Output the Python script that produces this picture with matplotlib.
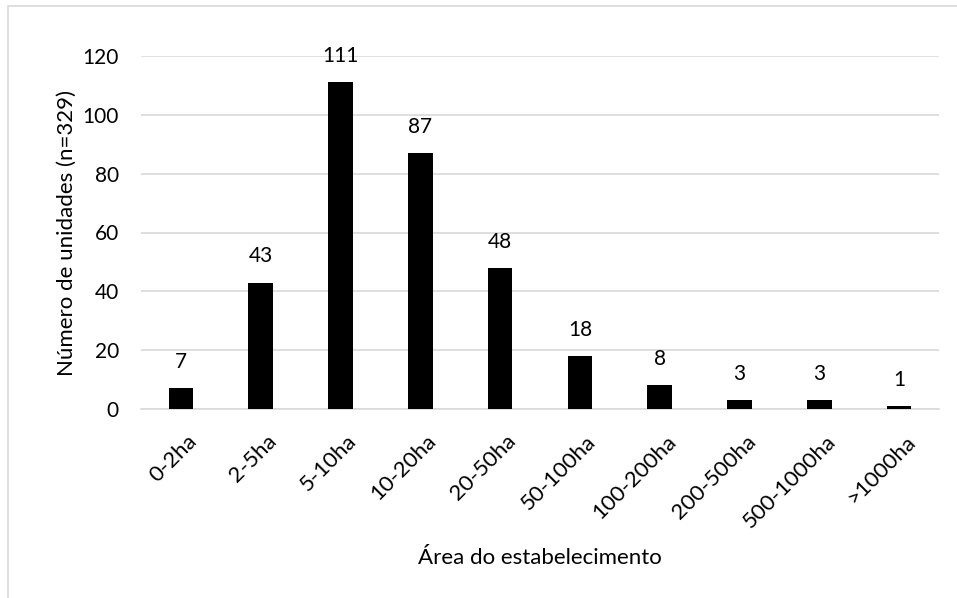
import matplotlib.pyplot as plt
import matplotlib.transforms as mtransforms
from matplotlib.patches import Rectangle

plt.rcParams['font.family'] = ['Lato', 'DejaVu Sans']

# data
categories = ['0-2ha', '2-5ha', '5-10ha', '10-20ha', '20-50ha', '50-100ha',
              '100-200ha', '200-500ha', '500-1000ha', '>1000ha']
counts = [7, 43, 111, 87, 48, 18, 8, 3, 3, 1]
y_ticks = [0, 20, 40, 60, 80, 100, 120]

W, H = 957, 598
FS = 15
fig = plt.figure(figsize=(W / 100, H / 100), dpi=100)
ax = fig.add_axes([141 / W, 1 - 409 / H, (939 - 141) / W, (409 - 56) / H])

# chart area border (only top and left are visible in the crop)
fig.patches.append(Rectangle((8 / W, -0.1), 1.1, 1.1 - 6 / H,
                             transform=fig.transFigure, fill=False,
                             edgecolor='#d9d9d9', linewidth=1.2))

x = range(len(categories))
ax.bar(x, counts, width=0.31, color='black', zorder=3)
for xi, v in zip(x, counts):
    ax.text(xi, v + 5.5, str(v), ha='center', va='bottom', fontsize=FS)

ax.set_xlim(-0.5, len(categories) - 0.5)
ax.set_ylim(0, 120)
ax.set_yticks(y_ticks)
ax.yaxis.grid(True, color='#d9d9d9', linewidth=1.2, zorder=0)
ax.tick_params(axis='both', length=0, labelsize=FS)
ax.tick_params(axis='y', pad=16)
ax.set_xticks(list(x))
ax.set_xticklabels(categories, rotation=45, ha='right', va='top',
                   rotation_mode='anchor', fontsize=16)
ax.tick_params(axis='x', pad=16)
shift = mtransforms.ScaledTranslation(6 / 100, 0, fig.dpi_scale_trans)
for lbl in ax.get_xticklabels():
    lbl.set_transform(lbl.get_transform() + shift)
for s in ['top', 'right', 'left']:
    ax.spines[s].set_visible(False)
ax.spines['bottom'].set_color('#d9d9d9')
ax.spines['bottom'].set_linewidth(1.2)

ax.set_ylabel('Número de unidades (n=329)', fontsize=16, labelpad=4)
ax.set_xlabel('Área do estabelecimento', fontsize=16, labelpad=12)

fig.savefig('out.png', dpi=100)
